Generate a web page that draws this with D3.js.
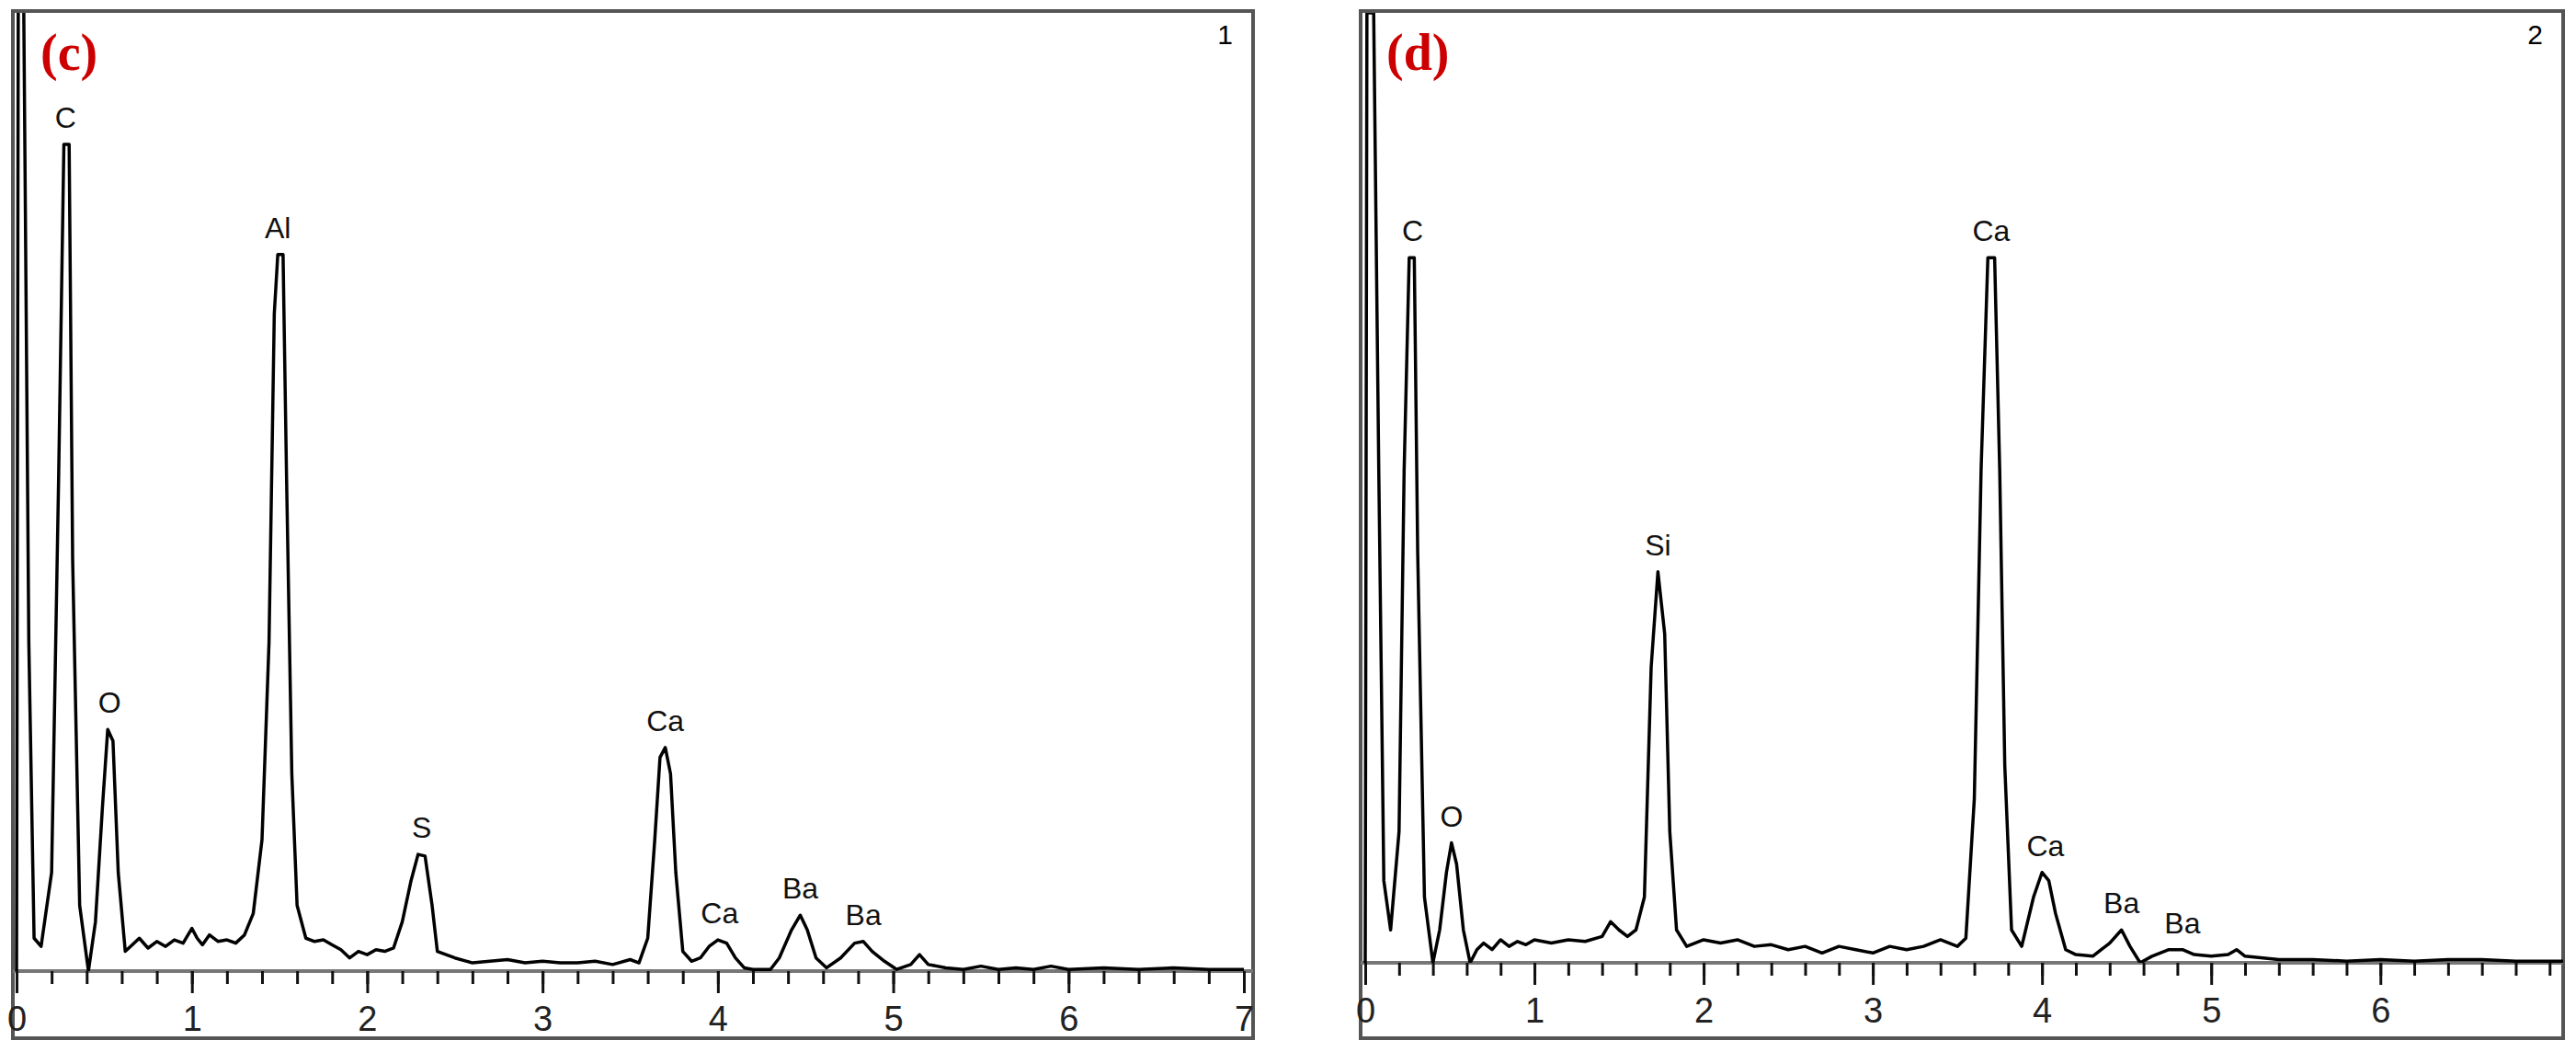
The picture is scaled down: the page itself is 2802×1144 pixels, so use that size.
<!DOCTYPE html>
<html><head><meta charset="utf-8">
<script src="https://cdn.jsdelivr.net/npm/d3@7"></script>
<style>body{margin:0;background:#fff}</style></head>
<body><svg id="c" width="2802" height="1144"></svg>
<script>
const tickLabelsC = ["0","1","2","3","4","5","6","7"];
const tickLabelsD = ["0","1","2","3","4","5","6"];
const energyC = [0,0.01,0.04,0.07,0.1,0.14,0.2,0.24,0.27,0.30,0.32,0.36,0.41,0.45,0.49,0.52,0.55,0.58,0.62,0.66,0.7,0.75,0.8,0.85,0.9,0.95,1.0,1.03,1.06,1.1,1.15,1.2,1.25,1.3,1.35,1.40,1.44,1.47,1.49,1.52,1.54,1.57,1.6,1.65,1.7,1.75,1.8,1.85,1.9,1.95,2.0,2.05,2.1,2.15,2.2,2.25,2.29,2.33,2.37,2.4,2.45,2.5,2.6,2.7,2.8,2.9,3.0,3.1,3.2,3.3,3.4,3.5,3.55,3.6,3.64,3.67,3.70,3.73,3.76,3.8,3.85,3.9,3.95,4.0,4.05,4.1,4.15,4.2,4.3,4.35,4.42,4.47,4.51,4.56,4.62,4.7,4.78,4.83,4.88,4.95,5.02,5.1,5.15,5.2,5.3,5.4,5.5,5.6,5.7,5.8,5.9,6.0,6.2,6.4,6.6,6.8,7.0];
const countsC = [0,600,600,200,20,15,60,300,503,503,250,40,0,30,100,147,140,60,12,16,20,14,18,15,19,17,26,20,16,22,18,19,17,22,35,80,200,400,436,436,300,120,40,20,18,19,16,13,8,12,10,13,12,14,30,55,71,70,40,12,10,8,5,6,7,5,6,5,5,6,4,7,5,20,80,130,136,120,60,12,6,8,15,19,17,8,2,1,1,8,25,34,25,8,2,8,17,18,12,6,1,4,10,4,2,1,3,1,2,1,3,1,2,1,2,1,1];
const energyD = [0,0.01,0.05,0.08,0.11,0.15,0.2,0.23,0.26,0.29,0.31,0.35,0.4,0.44,0.48,0.51,0.54,0.58,0.62,0.66,0.7,0.75,0.8,0.85,0.9,0.95,1.0,1.1,1.2,1.3,1.4,1.45,1.5,1.55,1.6,1.65,1.69,1.73,1.77,1.8,1.84,1.9,2.0,2.1,2.2,2.3,2.4,2.5,2.6,2.7,2.8,2.9,3.0,3.1,3.2,3.3,3.4,3.5,3.55,3.6,3.64,3.68,3.72,3.75,3.78,3.82,3.88,3.95,4.0,4.04,4.08,4.14,4.2,4.3,4.4,4.47,4.52,4.58,4.65,4.75,4.83,4.9,5.0,5.1,5.15,5.2,5.4,5.6,5.8,6.0,6.2,6.4,6.6,6.8,7.08];
const countsD = [0,578,578,300,50,20,80,300,429,429,250,40,0,20,55,73,60,20,0,8,12,8,14,10,13,11,14,12,14,13,16,25,20,16,20,40,180,238,200,80,20,10,14,12,14,10,11,8,10,6,10,8,6,10,8,10,14,10,15,100,300,429,429,300,120,20,10,40,55,50,30,8,5,4,12,20,10,0,4,8,8,5,4,5,8,4,2,2,1,2,1,2,2,1,1];
const labelsC = [{t:"C",x:0.28,y:503},{t:"Al",x:1.49,y:436},{t:"O",x:0.53,y:147},{t:"S",x:2.31,y:71},{t:"Ca",x:3.7,y:136},{t:"Ca",x:4.01,y:19},{t:"Ba",x:4.47,y:34},{t:"Ba",x:4.83,y:18}];
const labelsD = [{t:"C",x:0.28,y:429},{t:"Ca",x:3.7,y:429},{t:"Si",x:1.73,y:238},{t:"O",x:0.51,y:73},{t:"Ca",x:4.02,y:55},{t:"Ba",x:4.47,y:20},{t:"Ba",x:4.83,y:8}];

const svg = d3.select("#c");
function panel(o){
  const g = svg.append("g");
  const x = d3.scaleLinear().domain([0,o.xmax]).range([o.x0,o.x1]);
  const y = d3.scaleLinear().domain([0,o.ymax]).range([o.base,o.top]);
  g.append("rect").attr("x",o.fx0).attr("y",o.top-2).attr("width",o.fx1-o.fx0).attr("height",o.fb-o.top+2)
   .attr("fill","#fff").attr("stroke","#555").attr("stroke-width",4);
  g.append("line").attr("x1",o.fx0).attr("x2",o.fx1).attr("y1",o.base).attr("y2",o.base).attr("stroke","#777").attr("stroke-width",4);
  g.append("clipPath").attr("id","cp"+o.id).append("rect").attr("x",o.fx0).attr("y",o.top).attr("width",o.fx1-o.fx0).attr("height",o.base-o.top);
  const pts = o.e.map((e,i)=>[e,o.c[i]]);
  g.append("path").attr("d",d3.line().x(d=>x(d[0])).y(d=>y(Math.min(d[1],o.ymax+20))).curve(d3.curveLinear)(pts))
   .attr("fill","none").attr("stroke","#000").attr("stroke-width",3.5).attr("stroke-linejoin","round").attr("clip-path","url(#cp"+o.id+")");
  const ax = d3.axisBottom(x).tickValues(d3.range(0,o.xmax+0.001,0.2)).tickSize(14).tickFormat("");
  g.append("g").attr("transform",`translate(0,${o.base})`).call(ax).call(s=>{s.select(".domain").remove();s.selectAll("line").attr("stroke","#111").attr("stroke-width",3);});
  const ax2 = d3.axisBottom(x).tickValues(o.ticks.map(Number)).tickSize(24).tickFormat((d,i)=>o.ticks[i]);
  g.append("g").attr("transform",`translate(0,${o.base})`).call(ax2).call(s=>{s.select(".domain").remove();s.selectAll("line").attr("stroke","#111").attr("stroke-width",3);
    s.selectAll("text").attr("font-family","Liberation Sans Narrow, Arial").attr("font-size",38).attr("fill","#222").attr("dy","1.0em");});
  o.labels.forEach(l=>g.append("text").attr("x",x(l.x)).attr("y",y(l.y)-18).attr("text-anchor","middle")
    .attr("font-family","Liberation Sans, Arial").attr("font-size",32).attr("fill","#111").text(l.t));
  g.append("text").attr("x",o.fx1-22).attr("y",o.top+34).attr("text-anchor","end").attr("font-family","Liberation Sans, Arial").attr("font-size",30).text(o.num);
  g.append("text").attr("x",o.lx).attr("y",o.top+62).attr("font-family","Liberation Serif, Times New Roman").attr("font-weight","bold").attr("font-size",56).attr("fill","#cc0000").text(o.letter);
}
panel({id:"c",e:energyC,c:countsC,labels:labelsC,ticks:tickLabelsC,xmax:7,x0:18,x1:1353,fx0:14,fx1:1363,top:14,base:1056,fb:1129,ymax:583,num:"1",letter:"(c)",lx:44});
panel({id:"d",e:energyD,c:countsD,labels:labelsD,ticks:tickLabelsD,xmax:7.08,x0:1485,x1:2788,fx0:1480,fx1:2788,top:14,base:1047,fb:1129,ymax:578,num:"2",letter:"(d)",lx:1508});
</script></body></html>
